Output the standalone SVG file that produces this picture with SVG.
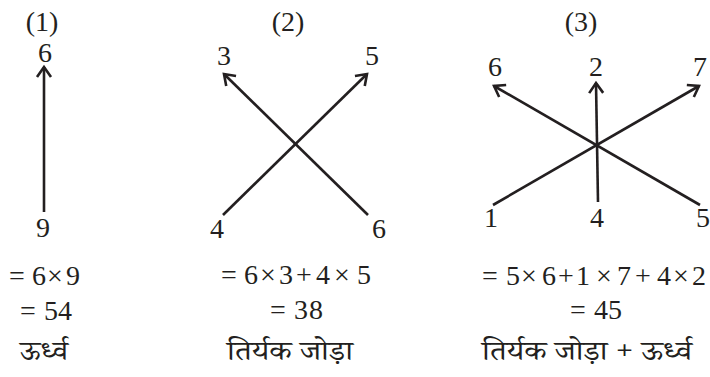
<svg xmlns="http://www.w3.org/2000/svg" width="710" height="377" viewBox="0 0 710 377">
<style>
.t{font-family:"Liberation Serif","Times New Roman",serif;font-size:28px;fill:#231f20}
.h{font-family:"Noto Serif Devanagari","Noto Sans Devanagari","Lohit Devanagari","Noto Sans",sans-serif;font-size:27px;fill:#231f20}
.c{fill:none;stroke:#231f20;stroke-width:2.6}
</style>
<defs>
<marker id="ah" markerUnits="userSpaceOnUse" markerWidth="20" markerHeight="20" refX="0" refY="0" viewBox="-12 -10 14 20" orient="auto" overflow="visible">
<path d="M-10,-7 L0,0 L-10,7" fill="none" stroke="#231f20" stroke-width="2.6" stroke-linejoin="miter"/>
</marker>
</defs>
<rect width="710" height="377" fill="#fff"/>
<g id="connectors">
<line class="c" x1="44" y1="212" x2="44" y2="67" marker-end="url(#ah)"/>
<line class="c" x1="223" y1="215" x2="367" y2="74" marker-end="url(#ah)"/>
<line class="c" x1="368" y1="215" x2="224" y2="74" marker-end="url(#ah)"/>
<line class="c" x1="493" y1="205" x2="699" y2="86" marker-end="url(#ah)"/>
<line class="c" x1="700" y1="205" x2="494" y2="86" marker-end="url(#ah)"/>
<line class="c" x1="598" y1="202" x2="596" y2="83" marker-end="url(#ah)"/>
</g>
<g id="panel1">
<text class="t" x="42" y="31" text-anchor="middle">(1)</text>
<g id="n1-6"><text class="t" x="45" y="62" text-anchor="middle">6</text></g>
<g id="n1-9"><text class="t" x="43" y="237" text-anchor="middle">9</text></g>
<text class="t" x="9 32 47 66" y="285">=6×9</text>
<text class="t" x="20 44 58" y="320">=54</text>
<text class="h" x="20" y="360" textLength="48" lengthAdjust="spacingAndGlyphs">ऊर्ध्व</text>
</g>
<g id="panel2">
<text class="t" x="288" y="31" text-anchor="middle">(2)</text>
<g id="n2-3"><text class="t" x="224" y="65" text-anchor="middle">3</text></g>
<g id="n2-5"><text class="t" x="372" y="65" text-anchor="middle">5</text></g>
<g id="n2-4"><text class="t" x="217" y="238" text-anchor="middle">4</text></g>
<g id="n2-6"><text class="t" x="379" y="238" text-anchor="middle">6</text></g>
<text class="t" x="221 244 260 279 296 316 334 357" y="284">=6×3+4×5</text>
<text class="t" x="270 294 309" y="319">=38</text>
<text class="h" x="227" y="360" textLength="126" lengthAdjust="spacingAndGlyphs">तिर्यक जोड़ा</text>
</g>
<g id="panel3">
<text class="t" x="581" y="31" text-anchor="middle">(3)</text>
<g id="n3-6"><text class="t" x="495" y="76" text-anchor="middle">6</text></g>
<g id="n3-2"><text class="t" x="596" y="76" text-anchor="middle">2</text></g>
<g id="n3-7"><text class="t" x="700" y="76" text-anchor="middle">7</text></g>
<g id="n3-1"><text class="t" x="491" y="227" text-anchor="middle">1</text></g>
<g id="n3-4"><text class="t" x="597" y="227" text-anchor="middle">4</text></g>
<g id="n3-5"><text class="t" x="703" y="227" text-anchor="middle">5</text></g>
<text class="t" x="482 506 521 542 558 576 596 617 635 657 673 692" y="285">=5×6+1×7+4×2</text>
<text class="t" x="570 594 608" y="319">=45</text>
<text class="h" x="482" y="360" textLength="210" lengthAdjust="spacingAndGlyphs">तिर्यक जोड़ा + ऊर्ध्व</text>
</g>
</svg>
